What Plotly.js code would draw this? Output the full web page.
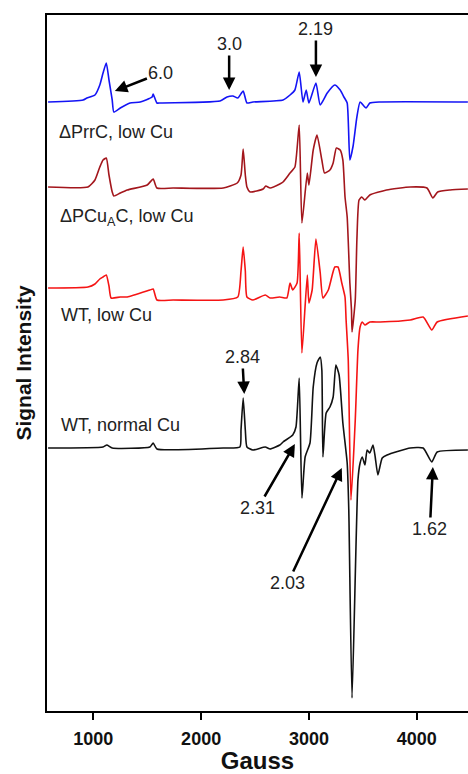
<!DOCTYPE html>
<html>
<head>
<meta charset="utf-8">
<script src="https://cdn.plot.ly/plotly-3.0.1.min.js"></script>
<style>html,body{margin:0;padding:0;background:#fff;}#chart{width:468px;height:774px;}</style>
</head>
<body>
<div id="chart"></div>
<script>
// Magnetic field (Gauss) and signal intensity (arbitrary units, stacked offsets)
var prrcX = [580,905,940,1015,1060,1090,1120,1145,1175,1190,1250,1340,1435,1545,1555,1590,1620,2175,2240,2295,2340,2390,2425,2480,2760,2825,2870,2910,2945,2975,3000,3065,3105,3170,3240,3290,3325,3355,3380,3410,3445,3475,3530,3565,3660,4475];
var prrcY = [609,611,613,616,626,638,648,631,611,599,603,608,609,614,617,608,608,610,614,615,613,620,608,609,611,616,621,639,609,621,608,628,606,618,626,621,614,608,551,565,594,609,603,608,609,609];

var pcuaX = [580,950,1015,1060,1090,1120,1145,1175,1190,1250,1315,1500,1555,1590,1740,2205,2335,2370,2390,2410,2425,2455,2575,2600,2640,2730,2760,2825,2870,2910,2935,2985,3000,3040,3075,3120,3145,3195,3225,3255,3290,3315,3335,3355,3380,3395,3400,3430,3445,3465,3490,3520,3565,3720,3940,4095,4150,4195,4310,4475];
var pcuaY = [524,524,531,544,551,553,536,519,515,518,521,526,532,523,523,523,528,536,562,536,524,519,522,525,523,527,529,538,544,586,488,538,526,561,576,551,538,541,548,563,561,551,514,494,428,401,379,411,471,511,514,511,516,521,524,523,513,519,521,522];

var wtLowX = [580,950,1015,1060,1090,1120,1145,1165,1250,1315,1525,1555,1590,1740,2205,2340,2370,2390,2410,2425,2480,2595,2640,2730,2795,2825,2850,2890,2910,2935,2985,3000,3030,3065,3105,3130,3180,3240,3270,3305,3335,3345,3365,3390,3430,3455,3475,3495,3520,3565,3660,3940,4060,4140,4190,4475];
var wtLowY = [423,424,427,432,434,436,425,413,414,414,421,422,411,411,411,414,440,464,440,414,411,416,413,414,413,428,421,428,478,358,436,408,421,472,438,413,421,444,444,428,414,391,351,211,291,361,384,389,386,389,389,391,394,381,389,395];

var wtNormX = [580,1090,1125,1175,1525,1555,1590,2205,2360,2370,2390,2410,2425,2480,2595,2640,2730,2760,2850,2880,2910,2935,2965,3010,3040,3075,3105,3120,3130,3160,3195,3225,3250,3280,3315,3355,3370,3400,3455,3475,3495,3520,3540,3565,3595,3615,3640,3680,3725,3940,4060,4140,4190,4475];
var wtNormY = [263,264,266,263,264,268,262,263,264,281,313,281,264,261,264,262,266,269,276,284,333,213,254,268,324,348,354,341,254,298,304,314,346,336,288,248,201,13,231,248,254,246,261,258,266,254,236,253,256,263,263,249,259,261];

var xTicks = [1000,2000,3000,4000];
var seriesLabels = ['ΔPrrC, low Cu','ΔPCu<sub>A</sub>C, low Cu','WT, low Cu','WT, normal Cu'];
var gLabels = ['6.0','3.0','2.19','2.84','2.31','2.03','1.62'];
var gX = [1200,2260,3065,2400,2870,3305,4150];
var gY = [620,621,634,317,267,243,244];

var traces = [
  {x: prrcX, y: prrcY, color: '#1414f5'},
  {x: pcuaX, y: pcuaY, color: '#a3161c'},
  {x: wtLowX, y: wtLowY, color: '#f51414'},
  {x: wtNormX, y: wtNormY, color: '#111111'}
].map(function(t){
  return {x: t.x, y: t.y, type: 'scatter', mode: 'lines', line: {color: t.color, width: 1.6, shape: 'spline', smoothing: 0.5}, hoverinfo: 'skip', showlegend: false};
});

var txtFont = {family: 'Arial, Liberation Sans, sans-serif', size: 18, color: '#222'};
var annotations = [];
var labelX = [660, 670, 680, 680];
var labelY = [579, 494, 396, 286];
seriesLabels.forEach(function(s, i){
  annotations.push({x: labelX[i], y: labelY[i], xref: 'x', yref: 'y', text: s, showarrow: false, xanchor: 'left', yanchor: 'middle', font: txtFont});
});
var offAx = [46, 0, 0, -2, -37, -54, -3];
var offAy = [-18, -46, -48, -37, 64, 115, 62];
gLabels.forEach(function(s, i){
  annotations.push({x: gX[i], y: gY[i], xref: 'x', yref: 'y', text: s, showarrow: true, arrowhead: 2, arrowsize: 1, arrowwidth: 2.5, arrowcolor: '#000', ax: offAx[i], ay: offAy[i], font: txtFont});
});

var layout = {
  width: 468, height: 774,
  margin: {l: 47, r: 0, t: 15, b: 63},
  paper_bgcolor: '#fff', plot_bgcolor: '#fff',
  showlegend: false,
  xaxis: {
    range: [570, 4476], tickvals: xTicks, ticktext: xTicks.map(String),
    ticks: 'outside', ticklen: 7, tickwidth: 2, tickcolor: '#000',
    showline: true, linewidth: 2, linecolor: '#000', mirror: true,
    showgrid: false, zeroline: false, ticklabelstandoff: 3,
    tickfont: {family: 'Arial, Liberation Sans, sans-serif', size: 18, color: '#111', weight: 'bold'},
    title: {text: 'Gauss', standoff: 4, font: {family: 'Arial, Liberation Sans, sans-serif', size: 24, color: '#111', weight: 'bold'}}
  },
  yaxis: {
    range: [0, 696], showticklabels: false, ticks: '',
    showline: true, linewidth: 2, linecolor: '#000',
    showgrid: false, zeroline: false,
    title: {text: 'Signal Intensity', standoff: 8, font: {family: 'Arial, Liberation Sans, sans-serif', size: 21, color: '#111', weight: 'bold'}}
  },
  annotations: annotations
};

Plotly.newPlot('chart', traces, layout, {staticPlot: true, displayModeBar: false});
</script>
</body>
</html>
